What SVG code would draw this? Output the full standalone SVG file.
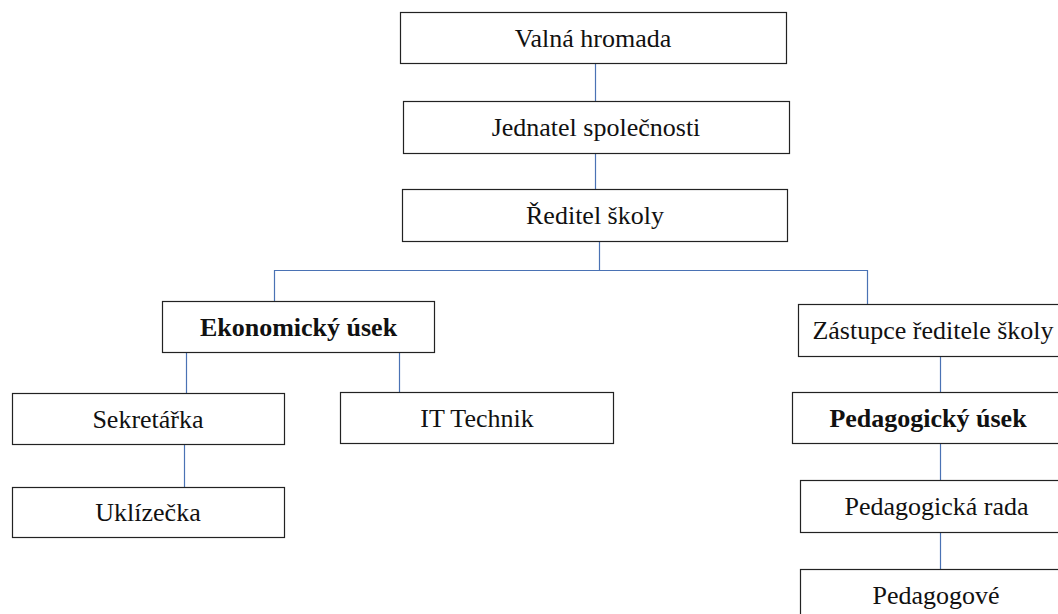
<svg xmlns="http://www.w3.org/2000/svg" width="1058" height="614" viewBox="0 0 1058 614">
<style>
.box{fill:#ffffff;stroke:#222222;stroke-width:1.2}
.t{font-family:"Liberation Serif","Times New Roman",serif;font-size:26px;fill:#111111;text-anchor:middle}
.b{font-weight:bold}
.c{fill:none;stroke:#4a72b4;stroke-width:1.2}
</style>
<rect x="0" y="0" width="1058" height="614" fill="#ffffff"/>
<g id="connectors">
<path class="c" d="M595.5 63V101"/>
<path class="c" d="M595.5 153V189"/>
<path class="c" d="M599.5 241V270.5H274.5V301"/>
<path class="c" d="M599.5 270.5H867.5V304"/>
<path class="c" d="M186.5 352V393"/>
<path class="c" d="M399.5 352V392"/>
<path class="c" d="M184.5 444V487"/>
<path class="c" d="M940.5 356V392"/>
<path class="c" d="M940.5 443V480"/>
<path class="c" d="M940.5 532V569"/>
</g>
<g id="valna">
<rect class="box" x="400.5" y="12.5" width="386" height="51"/>
<text class="t" x="593" y="46.5">Valná hromada</text>
</g>
<g id="jednatel">
<rect class="box" x="403.5" y="101.5" width="386" height="52"/>
<text class="t" x="596" y="136">Jednatel společnosti</text>
</g>
<g id="reditel">
<rect class="box" x="402.5" y="189.5" width="385" height="52"/>
<text class="t" x="595" y="224">Ředitel školy</text>
</g>
<g id="ekonomicky">
<rect class="box" x="162.5" y="301.5" width="272" height="51"/>
<text class="t b" x="298.5" y="336">Ekonomický úsek</text>
</g>
<g id="sekretarka">
<rect class="box" x="12.5" y="393.5" width="272" height="51"/>
<text class="t" x="148" y="428">Sekretářka</text>
</g>
<g id="itTechnik">
<rect class="box" x="340.5" y="392.5" width="273" height="51"/>
<text class="t" x="477" y="427">IT Technik</text>
</g>
<g id="uklizecka">
<rect class="box" x="12.5" y="487.5" width="272" height="50"/>
<text class="t" x="148" y="521">Uklízečka</text>
</g>
<g id="zastupce">
<rect class="box" x="798.5" y="304.5" width="272" height="52"/>
<text class="t" x="933" y="339">Zástupce ředitele školy</text>
</g>
<g id="pedagogickyUsek">
<rect class="box" x="792.5" y="392.5" width="272" height="51"/>
<text class="t b" x="928" y="427">Pedagogický úsek</text>
</g>
<g id="pedagogickaRada">
<rect class="box" x="800.5" y="480.5" width="272" height="52"/>
<text class="t" x="936.5" y="515">Pedagogická rada</text>
</g>
<g id="pedagogove">
<rect class="box" x="800.5" y="569.5" width="272" height="52"/>
<text class="t" x="936" y="604">Pedagogové</text>
</g>
</svg>
